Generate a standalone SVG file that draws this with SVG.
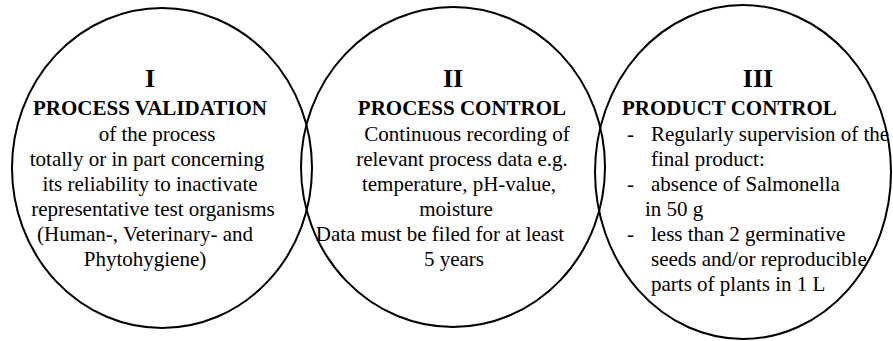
<svg xmlns="http://www.w3.org/2000/svg" width="893" height="341" viewBox="0 0 893 341">
<style>
.c{fill:none;stroke:#000;stroke-width:2}
.t{font-family:'Liberation Serif','Times New Roman','DejaVu Serif',serif;fill:#000}
.n{font-size:26px;font-weight:bold;text-anchor:middle}
.h{font-size:21px;font-weight:bold}
.b{font-size:21px}
.m{text-anchor:middle}
</style>
<rect width="893" height="341" fill="#fff"/>
<g id="node-I" class="t">
<ellipse class="c" cx="162" cy="168" rx="150" ry="160"/>
<text class="n" x="150" y="87">I</text>
<text class="h m" x="150" y="115">PROCESS VALIDATION</text>
<text class="b m" x="157" y="141">of the process</text>
<text class="b m" x="147" y="166">totally or in part concerning</text>
<text class="b m" x="150" y="191">its reliability to inactivate</text>
<text class="b m" x="153" y="216">representative test organisms</text>
<text class="b m" x="145" y="241">(Human-, Veterinary- and</text>
<text class="b m" x="145" y="266">Phytohygiene)</text>
</g>
<g id="node-II" class="t">
<ellipse class="c" cx="453" cy="167" rx="152" ry="160"/>
<text class="n" x="453" y="87">II</text>
<text class="h m" x="462" y="115">PROCESS CONTROL</text>
<text class="b m" x="467" y="141">Continuous recording of</text>
<text class="b m" x="462" y="166">relevant process data e.g.</text>
<text class="b m" x="459" y="191">temperature, pH-value,</text>
<text class="b m" x="456" y="216">moisture</text>
<text class="b m" x="440" y="241">Data must be filed for at least</text>
<text class="b m" x="454" y="266">5 years</text>
</g>
<g id="node-III" class="t">
<ellipse class="c" cx="743" cy="172" rx="148" ry="167"/>
<text class="n" x="758" y="87">III</text>
<text class="h" x="622" y="115">PRODUCT CONTROL</text>
<text class="b" x="627" y="141">-</text>
<text class="b" x="651" y="141" textLength="238" lengthAdjust="spacingAndGlyphs">Regularly supervision of the</text>
<text class="b" x="651" y="166">final product:</text>
<text class="b" x="627" y="191">-</text>
<text class="b" x="651" y="191">absence of Salmonella</text>
<text class="b" x="645" y="216">in 50 g</text>
<text class="b" x="627" y="241">-</text>
<text class="b" x="651" y="241">less than 2 germinative</text>
<text class="b" x="651" y="266">seeds and/or reproducible</text>
<text class="b" x="651" y="291">parts of plants in 1 L</text>
</g>
<g id="connectors"></g>
</svg>
